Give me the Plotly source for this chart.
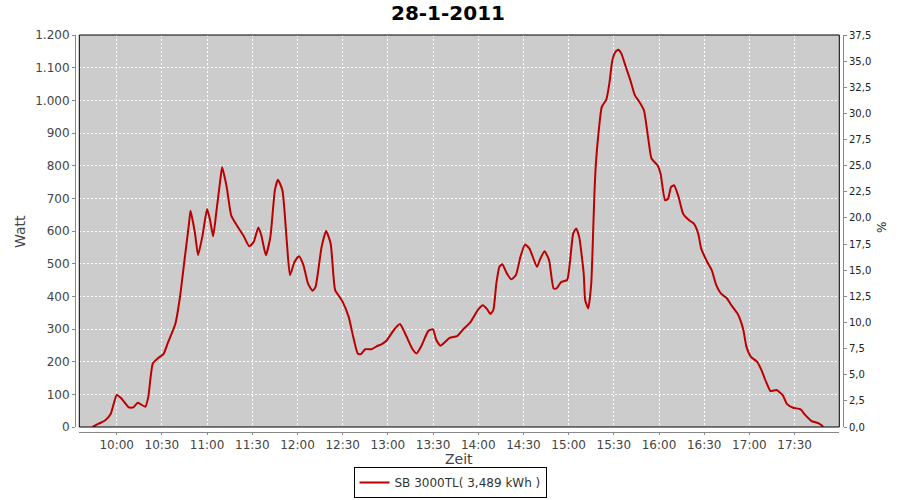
import plotly.graph_objects as go

DAY = "2011-01-28"

times = [
    "09:44", "09:48", "09:52", "09:56", "10:00", "10:03", "10:08", "10:11", "10:14", "10:19",
    "10:21", "10:24", "10:28", "10:31", "10:34", "10:39", "10:42", "10:45", "10:48", "10:49",
    "10:52", "10:54", "10:57", "11:00", "11:02", "11:04", "11:06", "11:09", "11:10", "11:13",
    "11:16", "11:20", "11:24", "11:28", "11:31", "11:34", "11:36", "11:39", "11:42", "11:45",
    "11:47", "11:50", "11:53", "11:55", "11:58", "12:01", "12:04", "12:07", "12:10", "12:12",
    "12:16", "12:19", "12:22", "12:25", "12:28", "12:30", "12:34", "12:37", "12:40", "12:42",
    "12:45", "12:49", "12:53", "12:56", "12:59", "13:04", "13:08", "13:11", "13:16", "13:19",
    "13:22", "13:27", "13:30", "13:32", "13:35", "13:41", "13:46", "13:50", "13:55", "14:00",
    "14:03", "14:06", "14:08", "14:10", "14:12", "14:14", "14:16", "14:19", "14:22", "14:25",
    "14:28", "14:31", "14:34", "14:39", "14:41", "14:44", "14:47", "14:50", "14:52", "14:55",
    "14:59", "15:01", "15:03", "15:05", "15:07", "15:10", "15:11", "15:13", "15:15", "15:16",
    "15:17", "15:18", "15:20", "15:22", "15:25", "15:27", "15:29", "15:31", "15:33", "15:35",
    "15:38", "15:41", "15:44", "15:47", "15:50", "15:53", "15:55", "15:59", "16:01", "16:04",
    "16:06", "16:08", "16:10", "16:13", "16:16", "16:20", "16:23", "16:26", "16:28", "16:32",
    "16:35", "16:38", "16:41", "16:45", "16:48", "16:52", "16:54", "16:56", "16:58", "17:01",
    "17:05", "17:08", "17:11", "17:14", "17:18", "17:22", "17:25", "17:29", "17:34", "17:37",
    "17:41", "17:46", "17:49",
]

watt = [
    0, 10, 19, 40, 98, 88, 60, 60, 74, 62,
    93, 195, 213, 223, 258, 317, 398, 511, 623, 662,
    592, 526, 587, 667, 633, 584, 653, 765, 795, 735,
    648, 615, 587, 553, 567, 611, 587, 526, 582, 725,
    757, 725, 562, 465, 505, 523, 495, 439, 417, 429,
    551, 600, 562, 419, 398, 383, 337, 276, 225, 223,
    238, 238, 248, 254, 264, 297, 315, 291, 241, 225,
    246, 295, 299, 268, 249, 273, 278, 299, 322, 360,
    373, 360, 346, 358, 439, 490, 498, 470, 452, 465,
    521, 559, 546, 490, 513, 538, 511, 424, 424, 444,
    450, 511, 592, 608, 582, 470, 388, 363, 439, 560,
    700, 800, 908, 980, 1002, 1051, 1122, 1148, 1155, 1143,
    1102, 1061, 1015, 995, 969, 878, 822, 801, 776, 694,
    699, 735, 740, 704, 653, 633, 623, 592, 546, 505,
    480, 434, 409, 394, 373, 348, 327, 297, 246, 215,
    200, 174, 139, 110, 113, 98, 70, 59, 54, 37,
    19, 11, 1,
]

series_name = "SB 3000TL( 3,489 kWh )"
chart_title = "28-1-2011"
left_ticks = list(range(0, 1300, 100))
right_ticks = [i * 2.5 for i in range(16)]

x_vals = [f"{DAY} {t}:00" for t in times]

fig = go.Figure()
fig.add_trace(go.Scatter(
    x=x_vals, y=watt, mode="lines", name=series_name,
    line=dict(color="#bb0000", width=2, shape="spline", smoothing=0.5),
    xaxis="x", yaxis="y",
))
# invisible trace to activate right axis
fig.add_trace(go.Scatter(
    x=[x_vals[0]], y=[0], mode="lines", showlegend=False,
    line=dict(color="rgba(0,0,0,0)"), xaxis="x", yaxis="y2", hoverinfo="skip",
))

FONT = "DejaVu Sans"
grid = dict(gridcolor="white", griddash="2px,2px", gridwidth=1)

fig.update_layout(
    width=900, height=500,
    margin=dict(l=75, r=57, t=35, b=68, pad=0, autoexpand=False),
    paper_bgcolor="white", plot_bgcolor="#cccccc",
    separators=",.",
    font=dict(family=FONT, size=12, color="#444444"),
    title=dict(text="<b>" + chart_title + "</b>", x=448 / 900, xanchor="center",
               xref="container", yref="container", y=1 - 13 / 500, yanchor="middle",
               font=dict(family=FONT, size=20, color="black")),
    showlegend=True,
    legend=dict(x=(450 - 75) / 768, xanchor="center", y=(432 - 498) / 397, yanchor="bottom",
                orientation="h", bordercolor="black", borderwidth=1, bgcolor="white",
                font=dict(family=FONT, size=12, color="#333333"), itemwidth=30,
                tracegroupgap=0),
    xaxis=dict(
        domain=[(79.3 - 75) / 768, (839.3 - 75) / 768],
        anchor="free", position=0, automargin=False,
        type="date",
        range=[f"{DAY} 09:35:10", f"{DAY} 17:59:40"],
        tick0=f"{DAY} 10:00:00", dtick=30 * 60 * 1000, tickformat="%H:%M",
        showline=True, linecolor="#888888", linewidth=1,
        ticks="outside", ticklen=2, tickcolor="#888888",
        tickfont=dict(family=FONT, size=12, color="#444444"),
        showgrid=True, zeroline=False, **grid,
    ),
    yaxis=dict(
        domain=[(432 - 427) / 397, 1],
        anchor="free", position=0, automargin=False,
        range=[0, 1200], tickvals=left_ticks,
        tickformat=",d",
        showline=True, linecolor="#888888", linewidth=1,
        ticks="outside", ticklen=3, tickcolor="#888888",
        tickfont=dict(family=FONT, size=12, color="#444444"),
        showgrid=True, zeroline=False, **grid,
    ),
    yaxis2=dict(
        overlaying="y", side="right", anchor="free", position=1, automargin=False,
        range=[0, 37.5], tickvals=right_ticks, tickformat=".1f",
        showline=True, linecolor="#888888", linewidth=1,
        ticks="outside", ticklen=3, tickcolor="#888888",
        tickfont=dict(family=FONT, size=10, color="#222222"),
        showgrid=False, zeroline=False,
    ),
    shapes=[dict(type="rect", xref="x domain", yref="y domain", x0=0, x1=1, y0=0, y1=1,
                 line=dict(color="black", width=1), fillcolor="rgba(0,0,0,0)", layer="above")],
    annotations=[
        dict(text="Watt", xref="paper", yref="paper", x=(20 - 75) / 768, y=(432 - 232) / 397,
             textangle=-90, showarrow=False, xanchor="center", yanchor="middle",
             font=dict(family=FONT, size=14, color="#444444")),
        dict(text="Zeit", xref="paper", yref="paper", x=(459 - 75) / 768, y=(432 - 459) / 397,
             showarrow=False, xanchor="center", yanchor="middle",
             font=dict(family=FONT, size=14, color="#444444")),
        dict(text="%", xref="paper", yref="paper", x=(882 - 75) / 768, y=(432 - 228) / 397,
             textangle=-90, showarrow=False, xanchor="center", yanchor="middle",
             font=dict(family=FONT, size=12, color="#222222")),
    ],
)

fig.write_html("out.html", config={"displayModeBar": False},
               post_script="document.body.style.margin='0';document.body.style.padding='0';")
